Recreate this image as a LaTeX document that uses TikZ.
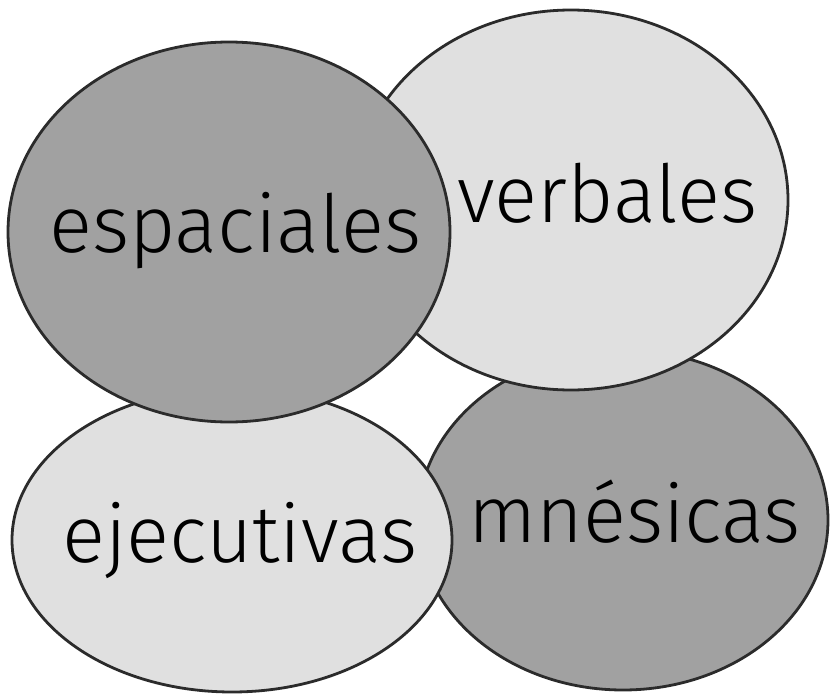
\documentclass[tikz,border=0pt]{standalone}
\usepackage{fontspec}
\setmainfont{Fira Sans Light}
\definecolor{darkfill}{HTML}{A1A1A1}
\definecolor{lightfill}{HTML}{E0E0E0}
\definecolor{edge}{HTML}{2B2B2B}
\tikzset{
  blob/.style={draw=edge, line width=2.8pt},
  lab/.style={anchor=base west, inner sep=0pt, font=\fontsize{80}{80}\selectfont, text=black}
}
\begin{document}
\begin{tikzpicture}[x=1pt,y=-1pt]
\useasboundingbox (0,0) rectangle (830,696);
\fill[white] (0,0) rectangle (830,696);
% back to front
\filldraw[blob, fill=darkfill]  (623,520) ellipse [x radius=205, y radius=170];
\filldraw[blob, fill=lightfill] (571,200) ellipse [x radius=217, y radius=190];
\filldraw[blob, fill=lightfill] (232,540) ellipse [x radius=220, y radius=152];
\filldraw[blob, fill=darkfill]  (229,232) ellipse [x radius=221, y radius=190];
\node[lab] (esp) at (49,252) {espaciales};
\node[lab] (ver) at (457,222) {verbales};
\node[lab] (mne) at (468,542) {mnésicas};
\node[lab] (eje) at (62,562) {ejecutivas};
\end{tikzpicture}
\end{document}
